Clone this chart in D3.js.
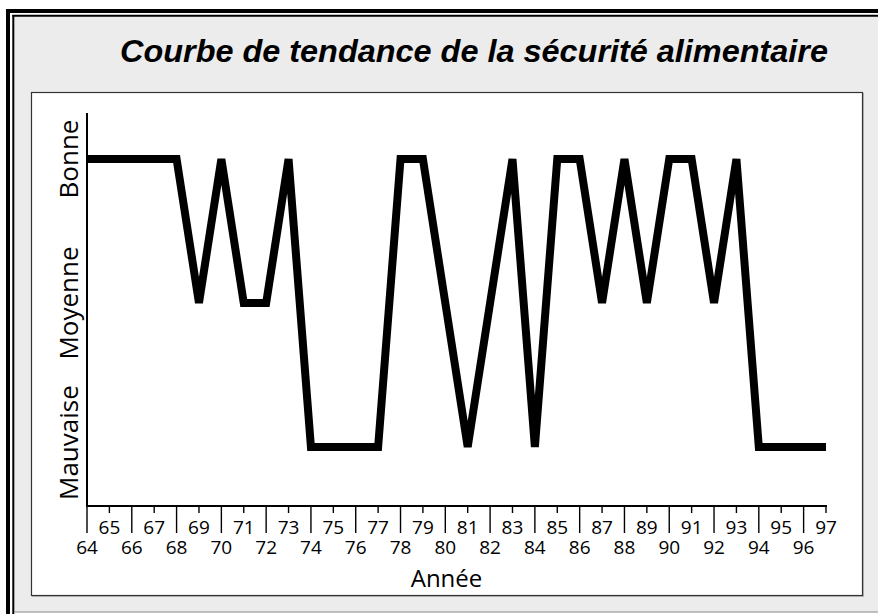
<!DOCTYPE html>
<html><head><meta charset="utf-8">
<script src="https://cdn.jsdelivr.net/npm/d3@7"></script>
<style>html,body{margin:0;padding:0;background:#fff;}svg{display:block;}</style>
</head><body>
<svg id="c" width="878" height="614"></svg>
<script>
const years = d3.range(64, 98);
const levels = ["Mauvaise", "Moyenne", "Bonne"];
// 1 = Mauvaise, 2 = Moyenne, 3 = Bonne
const values = [3,3,3,3,3,2,3,2,2,3,1,1,1,1,3,3,2,1,2,3,1,3,3,2,3,2,3,3,2,3,1,1,1,1];
const title = "Courbe de tendance de la sécurité alimentaire";
const xTitle = "Année";

const svg = d3.select("#c");
// outer frame
svg.append("rect").attr("x",14).attr("y",16).attr("width",864).attr("height",596).attr("fill","#ececec");
svg.append("line").attr("x1",8).attr("x2",8).attr("y1",9).attr("y2",614).attr("stroke","#000").attr("stroke-width",4);
svg.append("line").attr("x1",6).attr("x2",878).attr("y1",11).attr("y2",11).attr("stroke","#000").attr("stroke-width",4);
svg.append("line").attr("x1",13.3).attr("x2",13.3).attr("y1",15).attr("y2",614).attr("stroke","#000").attr("stroke-width",2);
svg.append("line").attr("x1",12.3).attr("x2",878).attr("y1",15.7).attr("y2",15.7).attr("stroke","#000").attr("stroke-width",2);
svg.append("line").attr("x1",14).attr("x2",878).attr("y1",612).attr("y2",612).attr("stroke","#888").attr("stroke-width",1.2);

// plot box with shadow
svg.append("rect").attr("x",32.5).attr("y",93.5).attr("width",831).attr("height",503).attr("fill","none").attr("stroke","#b8b8b8").attr("stroke-width",1);
svg.append("rect").attr("x",31.5).attr("y",92.5).attr("width",831).attr("height",503).attr("fill","#fff").attr("stroke","#333").attr("stroke-width",1.2);

const tt = svg.append("text").attr("x",474).attr("y",62).attr("text-anchor","middle")
  .attr("font-family","'Liberation Sans', Arial, sans-serif").attr("font-weight","bold").attr("font-style","italic")
  .attr("font-size",32).attr("fill","#000").text(title);
tt.attr("textLength", 708).attr("lengthAdjust","spacingAndGlyphs");

const x = d3.scaleLinear().domain([64, 97]).range([87, 826]);
const y = d3.scaleLinear().domain([1, 3]).range([447, 159]);
const axisY = 506;

// axes lines
svg.append("line").attr("x1",87).attr("x2",87).attr("y1",113).attr("y2",axisY+1).attr("stroke","#000").attr("stroke-width",2);
svg.append("line").attr("x1",86).attr("x2",x(97)+1).attr("y1",axisY).attr("y2",axisY).attr("stroke","#000").attr("stroke-width",2);

const font = "'Open Sans', sans-serif";
// x ticks
const tg = svg.append("g");
years.forEach(yr => {
  const even = yr % 2 === 0;
  tg.append("line").attr("x1",x(yr)).attr("x2",x(yr)).attr("y1",axisY+1).attr("y2", even ? 533 : 513)
    .attr("stroke","#000").attr("stroke-width",1.4);
  tg.append("text").attr("x",x(yr)).attr("y", even ? 554 : 534).attr("text-anchor","middle")
    .attr("font-family",font).attr("font-size",19).attr("fill","#000").text(String(yr));
});

// y labels
levels.forEach((lab, i) => {
  const t = svg.append("text").attr("font-family",font).attr("font-size",26).attr("fill","#000")
    .attr("text-anchor","middle").text(lab);
  const len = t.node().getComputedTextLength();
  const cy = Math.min(y(i+1), 500 - len/2);
  t.attr("transform", `translate(78,${cy}) rotate(-90)`);
});

svg.append("text").attr("x",446.5).attr("y",587).attr("text-anchor","middle")
  .attr("font-family",font).attr("font-size",24).attr("fill","#000").text(xTitle);

const line = d3.line().x((d,i)=>x(years[i])).y(d=>y(d));
svg.append("path").datum(values).attr("d", line).attr("fill","none").attr("stroke","#000")
  .attr("stroke-width",8).attr("stroke-linejoin","miter").attr("stroke-miterlimit",4);
</script>
</body></html>
